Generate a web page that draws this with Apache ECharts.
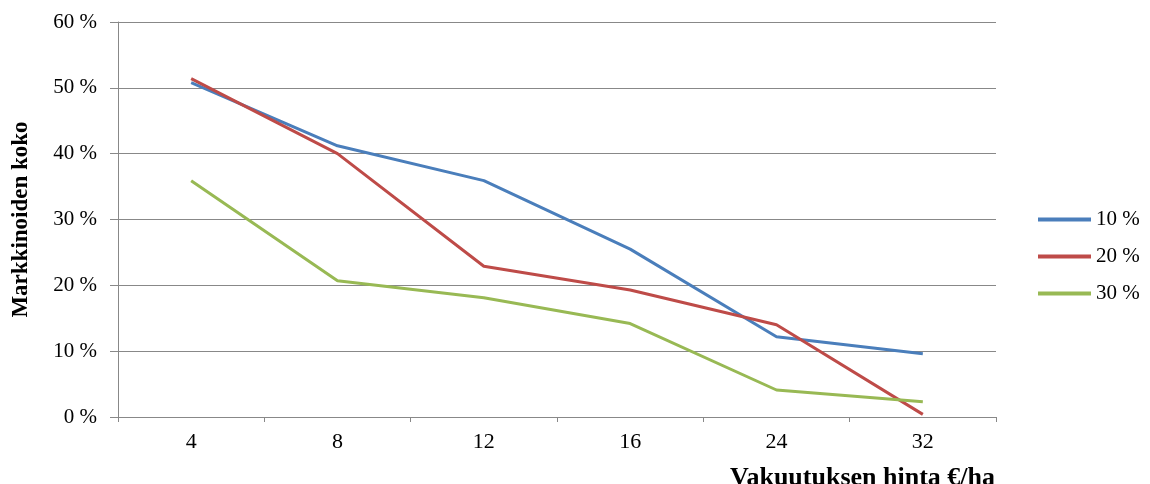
<!DOCTYPE html>
<html>
<head>
<meta charset="utf-8">
<script src="https://cdn.jsdelivr.net/npm/echarts@6/dist/echarts.min.js"></script>
<style>html,body{margin:0;padding:0;background:#fff}#c{width:1150px;height:484px}</style>
</head>
<body>
<div id="c"></div>
<script>
const categories = ['4', '8', '12', '16', '24', '32'];
const s10 = [0.508, 0.412, 0.359, 0.255, 0.122, 0.096];
const s20 = [0.514, 0.400, 0.229, 0.193, 0.140, 0.004];
const s30 = [0.359, 0.207, 0.181, 0.142, 0.041, 0.023];
const seriesNames = ['10 %', '20 %', '30 %'];
const colors = ['#4A7EBB', '#BE4B48', '#98B954'];
const yTicks = [0, 0.1, 0.2, 0.3, 0.4, 0.5, 0.6];

const font = '"Liberation Serif", "Times New Roman", serif';
const chart = echarts.init(document.getElementById('c'));
const mk = (name, data, color) => ({
  name, type: 'line', data, symbol: 'none', smooth: false,
  lineStyle: { color, width: 3 }, itemStyle: { color }
});
chart.setOption({
  animation: false,
  textStyle: { fontFamily: font },
  grid: { left: 118, right: 154, top: 22, bottom: 67, containLabel: false, outerBoundsMode: 'none' },
  legend: {
    orient: 'vertical', left: 1033, top: 204,
    itemWidth: 53, itemHeight: 4, itemGap: 16, icon: 'rect',
    data: seriesNames,
    textStyle: { fontFamily: font, fontSize: 21, color: '#000' }
  },
  xAxis: {
    type: 'category', data: categories, boundaryGap: true,
    axisLine: { lineStyle: { color: '#888888', width: 1 } },
    axisTick: { show: true, length: 5, alignWithLabel: false, lineStyle: { color: '#888888' } },
    axisLabel: { margin: 14, fontFamily: font, fontSize: 22, color: '#000' },
    name: 'Vakuutuksen hinta €/ha', nameLocation: 'end', nameGap: -1,
    nameTextStyle: { fontFamily: font, fontSize: 26, fontWeight: 'bold', color: '#000',
      align: 'right', verticalAlign: 'top', padding: [48, 0, 0, 0] }
  },
  yAxis: {
    type: 'value', min: 0, max: 0.6, interval: 0.1,
    axisLine: { show: true, lineStyle: { color: '#888888', width: 1 } },
    axisTick: { show: true, length: 8, lineStyle: { color: '#888888' } },
    splitLine: { show: true, lineStyle: { color: '#888888', width: 1 } },
    axisLabel: { margin: 21, fontFamily: font, fontSize: 21, color: '#000',
      formatter: v => Math.round(v * 100) + ' %' },
    name: 'Markkinoiden koko', nameLocation: 'middle', nameGap: 85,
    nameTextStyle: { fontFamily: font, fontSize: 23, fontWeight: 'bold', color: '#000' }
  },
  series: [mk(seriesNames[0], s10, colors[0]), mk(seriesNames[1], s20, colors[1]), mk(seriesNames[2], s30, colors[2])]
});
</script>
</body>
</html>
